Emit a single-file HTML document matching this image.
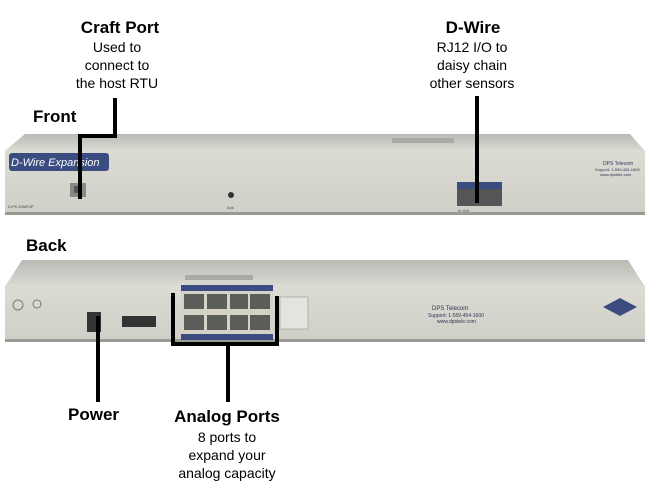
<!DOCTYPE html>
<html><head><style>
body{margin:0;background:#fff;}
svg{display:block;font-family:"Liberation Sans",sans-serif;}
</style></head><body>
<svg width="650" height="495" viewBox="0 0 650 495">
<defs>
<linearGradient id="top" x1="0" y1="0" x2="0" y2="1"><stop offset="0" stop-color="#b9bab4"/><stop offset="1" stop-color="#d9d9d2"/></linearGradient>
<linearGradient id="face" x1="0" y1="0" x2="0" y2="1"><stop offset="0" stop-color="#dcdcd5"/><stop offset="1" stop-color="#cfcfc7"/></linearGradient>
</defs>
<text x="120" y="33" font-size="17" font-weight="bold" text-anchor="middle">Craft Port</text>
<text x="117" y="52" font-size="14" text-anchor="middle">Used to</text>
<text x="117" y="70" font-size="14" text-anchor="middle">connect to</text>
<text x="117" y="88" font-size="14" text-anchor="middle">the host RTU</text>
<text x="33" y="122" font-size="17" font-weight="bold">Front</text>
<text x="473" y="33" font-size="17" font-weight="bold" text-anchor="middle">D-Wire</text>
<text x="472" y="52" font-size="14" text-anchor="middle">RJ12 I/O to</text>
<text x="472" y="70" font-size="14" text-anchor="middle">daisy chain</text>
<text x="472" y="88" font-size="14" text-anchor="middle">other sensors</text>
<text x="26" y="251" font-size="17" font-weight="bold">Back</text>
<text x="68" y="420" font-size="17" font-weight="bold">Power</text>
<text x="227" y="422" font-size="17" font-weight="bold" text-anchor="middle">Analog Ports</text>
<text x="227" y="442" font-size="14" text-anchor="middle">8 ports to</text>
<text x="227" y="460" font-size="14" text-anchor="middle">expand your</text>
<text x="227" y="478" font-size="14" text-anchor="middle">analog capacity</text>

<polygon points="25,134 630,134 644,150 6,150" fill="url(#top)"/>
<rect x="392" y="138" width="62" height="5" fill="#a9aaa3"/>
<rect x="5" y="150" width="640" height="64" fill="url(#face)"/>
<rect x="5" y="212" width="640" height="3" fill="#9a9a94"/>
<rect x="9" y="153" width="100" height="18" rx="3" fill="#3a4c80"/>
<text x="11" y="166" font-size="11" font-style="italic" fill="#fff">D-Wire Expansion</text>
<rect x="70" y="183" width="16" height="14" fill="#8a8a85"/>
<rect x="74" y="186" width="8" height="7" fill="#555"/>
<text x="8" y="208" font-size="4" fill="#444">D-PK-DWEXP</text>
<circle cx="231" cy="195" r="3" fill="#333"/>
<text x="227" y="209" font-size="4" fill="#444">Ack</text>
<rect x="457" y="182" width="45" height="7" fill="#3a4c80"/>
<rect x="457" y="189" width="45" height="17" fill="#555"/>
<text x="458" y="212" font-size="4" fill="#444">In   Out</text>
<text x="603" y="165" font-size="5" fill="#335">DPS Telecom</text>
<text x="595" y="171" font-size="4" fill="#335">Support: 1-559-454-1600</text>
<text x="600" y="176" font-size="4" fill="#335">www.dpstele.com</text>

<polygon points="22,260 628,260 644,285 6,285" fill="url(#top)"/>
<rect x="185" y="275" width="68" height="5" fill="#a9aaa3"/>
<rect x="5" y="285" width="640" height="56" fill="url(#face)"/>
<rect x="5" y="339" width="640" height="3" fill="#9a9a94"/>
<circle cx="18" cy="305" r="5" fill="none" stroke="#777"/>
<circle cx="37" cy="304" r="4" fill="none" stroke="#777"/>
<rect x="87" y="312" width="14" height="20" fill="#333"/>
<rect x="122" y="316" width="34" height="11" fill="#333"/>
<rect x="181" y="285" width="92" height="55" fill="#d4d2c6"/>
<rect x="181" y="285" width="92" height="6" fill="#3a4c80"/>
<rect x="181" y="334" width="92" height="6" fill="#3a4c80"/>
<g fill="#5a5d58">
<rect x="184" y="294" width="20" height="15"/><rect x="207" y="294" width="20" height="15"/><rect x="230" y="294" width="18" height="15"/><rect x="250" y="294" width="20" height="15"/>
<rect x="184" y="315" width="20" height="15"/><rect x="207" y="315" width="20" height="15"/><rect x="230" y="315" width="18" height="15"/><rect x="250" y="315" width="20" height="15"/>
</g>
<rect x="280" y="297" width="28" height="32" fill="#e4e4de" stroke="#888" stroke-width="0.5"/>
<text x="432" y="310" font-size="6" fill="#335">DPS Telecom</text>
<text x="428" y="317" font-size="5" fill="#335">Support: 1-559-454-1600</text>
<text x="437" y="323" font-size="5" fill="#335">www.dpstele.com</text>
<polygon points="620,298 637,307 620,316 603,307" fill="#3a4c80"/>

<g stroke="#000" stroke-width="4" fill="none">
<polyline points="115,98 115,136 80,136 80,199"/>
<line x1="477" y1="96" x2="477" y2="203"/>
<line x1="98" y1="316" x2="98" y2="402"/>
<polyline points="173,293 173,344 277,344 277,296"/>
<line x1="228" y1="344" x2="228" y2="402"/>
</g>
</svg>
</body></html>
